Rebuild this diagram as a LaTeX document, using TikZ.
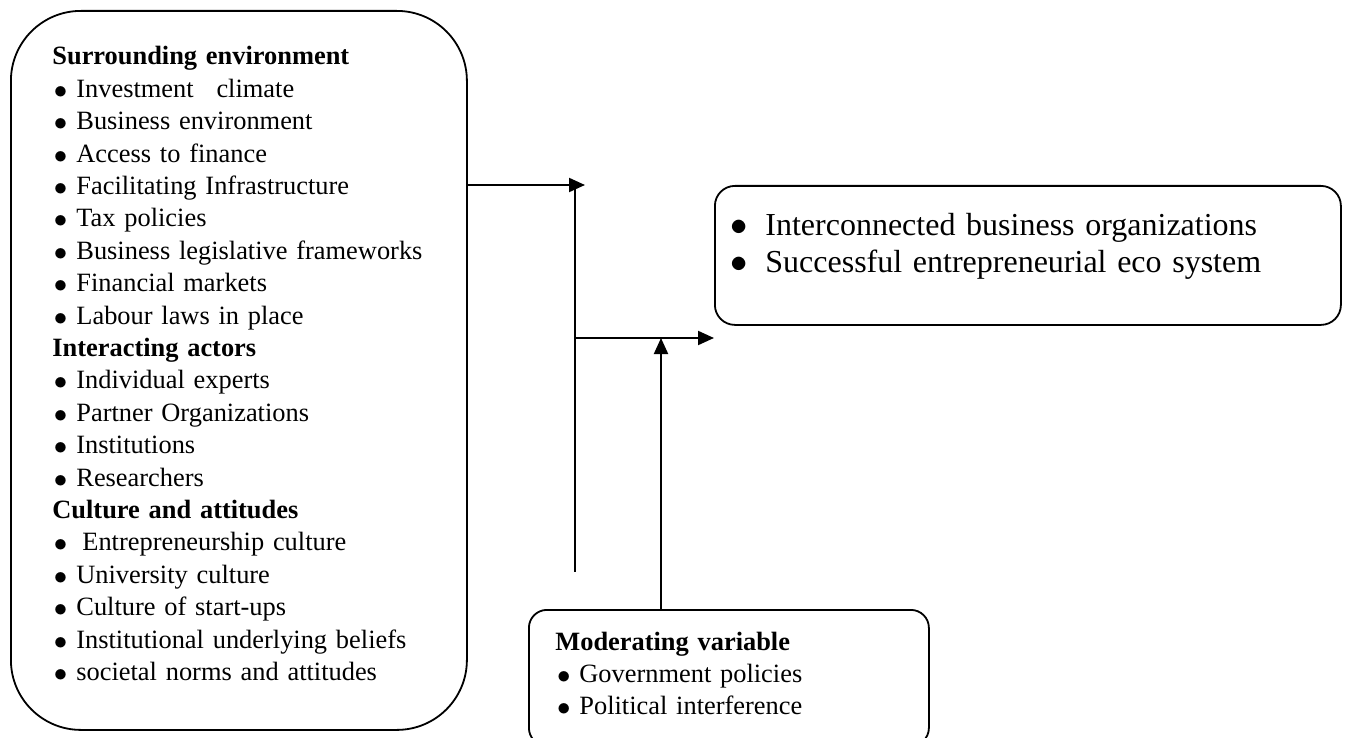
\documentclass[tikz,border=0pt]{standalone}
\usepackage{fontspec}
\setmainfont{Liberation Serif}
\usetikzlibrary{arrows.meta,calc}

\newcommand{\itm}{\makebox[12pt][l]{\hspace{0.8pt}\raisebox{-0.5pt}{\scalebox{1.12}{$\bullet$}}}}
\newcommand{\bigitm}{\makebox[17.5pt][l]{$\bullet$}}

\begin{document}
\begin{tikzpicture}[
		x=0.5pt, y=-0.5pt,
		panel/.style={draw, line width=0.9pt, inner sep=0pt, anchor=north west},
		itemlist/.style={
				inner sep=0pt,
				align=left,
				anchor=base west,
				font=\fontsize{13.2}{16.2}\selectfont
			},
		biglist/.style={
				inner sep=0pt,
				align=left,
				anchor=base west,
				font=\fontsize{16}{18.5}\selectfont
			},
		conn/.style={draw, line width=1pt},
		arrow/.style={conn, -{Triangle[length=8pt,width=7pt]}}
	]
	\useasboundingbox (0,0) rectangle (1345,738);

	% the three boxes
	\node[panel, rounded corners=35pt, minimum width=228pt, minimum height=359.5pt] (env) at (10,10) {};
	\node[panel, rounded corners=10pt, minimum width=313pt, minimum height=69.5pt] (result) at (714,185) {};
	\node[panel, rounded corners=9pt, minimum width=200pt, minimum height=68pt] (moder) at (528,609) {};

	\node[itemlist, text width=200pt] (envlist) at (52,65) {
		\textbf{Surrounding environment}\\
		\itm Investment\hspace{7pt} climate\\
		\itm Business environment\\
		\itm Access to finance\\
		\itm Facilitating Infrastructure\\
		\itm Tax policies\\
		\itm Business legislative frameworks\\
		\itm Financial markets\\
		\itm Labour laws in place\\
		\textbf{Interacting actors}\\
		\itm Individual experts\\
		\itm Partner Organizations\\
		\itm Institutions\\
		\itm Researchers\\
		\textbf{Culture and attitudes}\\
		\itm\hspace{3pt}Entrepreneurship culture\\
		\itm University culture\\
		\itm Culture of start-ups\\
		\itm Institutional underlying beliefs\\
		\itm societal norms and attitudes};

	\node[biglist, text width=290pt] (resultlist) at (730,235) {
		\bigitm Interconnected business organizations\\
		\bigitm Successful entrepreneurial eco system};

	\node[itemlist, text width=180pt] (moderlist) at (555,650) {
		\textbf{Moderating variable}\\
		\itm Government policies\\
		\itm Political interference};

	% connectors
	\coordinate (jtop) at (575,185);
	\coordinate (jbot) at (575,572);
	\coordinate (envtip) at (585,185);
	\coordinate (mid) at (575,338);
	\coordinate (modtip) at (661,338);

	\draw[arrow] (env.east |- envtip) -- (envtip);
	\draw[conn] (jtop) -- (jbot);
	\draw[arrow] (mid) -- (result.west |- mid);
	\draw[arrow] (moder.north -| modtip) -- (modtip);
\end{tikzpicture}
\end{document}
